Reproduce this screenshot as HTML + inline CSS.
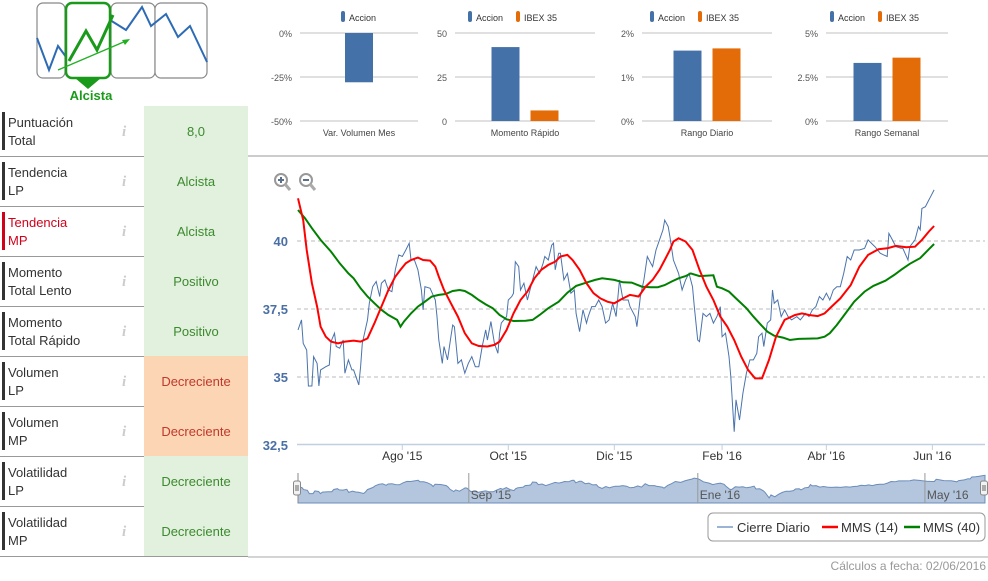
<!DOCTYPE html>
<html><head><meta charset="utf-8">
<style>
html,body{margin:0;padding:0;background:#fff;width:988px;height:581px;overflow:hidden;font-family:"Liberation Sans",sans-serif;}
svg{position:absolute;left:0;top:0;}
</style></head>
<body>
<svg id="s" width="988" height="581" viewBox="0 0 988 581" xmlns="http://www.w3.org/2000/svg" font-family="Liberation Sans, sans-serif">
  <g>
    <rect x="37" y="3" width="28" height="75" rx="6" fill="#fff" stroke="#888" stroke-width="1.2"/>
    <rect x="111" y="3" width="44" height="75" rx="6" fill="#fff" stroke="#888" stroke-width="1.2"/>
    <rect x="155" y="3" width="52" height="75" rx="6" fill="#fff" stroke="#888" stroke-width="1.2"/>
    <polyline points="37,38 49,70 58,46 69,61" fill="none" stroke="#2e6bb5" stroke-width="2"/>
    <polyline points="110,20 126,30 142,7 151,26 166,14 178,37 190,26 207,62" fill="none" stroke="#2e6bb5" stroke-width="2"/>
    <rect x="66" y="3" width="44" height="75" rx="6" fill="#fff" stroke="#1a9a1a" stroke-width="2.5"/>
    <polyline points="69,61 86,31 97,50 113,15" fill="none" stroke="#1a9a1a" stroke-width="3"/>
    <line x1="58" y1="70" x2="126" y2="41" stroke="#22b022" stroke-width="1.3"/>
    <polygon points="130,39 122,40 125,45" fill="#22b022"/>
    <polygon points="75,78 101,78 88,89" fill="#1a9a1a"/>
    <text x="91" y="100" text-anchor="middle" font-size="13" font-weight="bold" fill="#1a9a1a">Alcista</text>
  </g>
  <g id="rows"></g>
  <line x1="248" y1="156" x2="988" y2="156" stroke="#999" stroke-width="1"/>
  <g id="minis"></g>
  <g id="main"></g>
  <g>
    <circle cx="281" cy="180" r="6" fill="#fff" stroke="#999" stroke-width="2"/><line x1="285" y1="184" x2="290" y2="190" stroke="#aaa" stroke-width="3"/>
    <line x1="278" y1="180" x2="284" y2="180" stroke="#5b6f8c" stroke-width="2"/><line x1="281" y1="177" x2="281" y2="183" stroke="#5b6f8c" stroke-width="2"/>
  </g>
  <g>
    <circle cx="306" cy="180" r="6" fill="#fff" stroke="#999" stroke-width="2"/><line x1="310" y1="184" x2="315" y2="190" stroke="#aaa" stroke-width="3"/>
    <line x1="303" y1="180" x2="309" y2="180" stroke="#5b6f8c" stroke-width="2"/>
  </g>
  <g>
    <rect x="708" y="513" width="277" height="28" rx="5" fill="#fff" stroke="#999"/>
    <line x1="717" y1="527" x2="733" y2="527" stroke="#9bb3d4" stroke-width="2"/>
    <text x="737" y="532" font-size="13" fill="#333">Cierre Diario</text>
    <line x1="822" y1="527" x2="838" y2="527" stroke="#ff0000" stroke-width="2.5"/>
    <text x="841" y="532" font-size="13" fill="#333">MMS (14)</text>
    <line x1="904" y1="527" x2="920" y2="527" stroke="#008000" stroke-width="2.5"/>
    <text x="923" y="532" font-size="13" fill="#333">MMS (40)</text>
  </g>
  <line x1="248" y1="557" x2="988" y2="557" stroke="#aaa"/>
  <text x="986" y="570" text-anchor="end" font-size="12" fill="#999">Cálculos a fecha: 02/06/2016</text>
</svg>
<script>
const NS="http://www.w3.org/2000/svg";
function mk(p,t,a){const e=document.createElementNS(NS,t);for(const k in a)e.setAttribute(k,a[k]);p.appendChild(e);return e;}

// ---- left indicator rows ----
const rowLabels1=["Puntuación","Tendencia","Tendencia","Momento","Momento","Volumen","Volumen","Volatilidad","Volatilidad"];
const rowLabels2=["Total","LP","MP","Total Lento","Total Rápido","LP","MP","LP","MP"];
const rowValues=["8,0","Alcista","Alcista","Positivo","Positivo","Decreciente","Decreciente","Decreciente","Decreciente"];
const rowNegative=[false,false,false,false,false,true,true,false,false];
const rowHighlight=[false,false,true,false,false,false,false,false,false];
const R=document.getElementById('rows');
rowLabels1.forEach((l,i)=>{
  const y=106+i*50;
  const g=mk(R,'g',{});
  
  
  const c=rowHighlight[i]?'#d0021b':'#333';
  mk(g,'rect',{x:2,y:y+6,width:3,height:38,fill:rowHighlight[i]?'#d0021b':'#333'});
  const t1=mk(g,'text',{x:8,y:y+21,'font-size':13,fill:c});t1.textContent=l;
  const t2=mk(g,'text',{x:8,y:y+39,'font-size':13,fill:c});t2.textContent=rowLabels2[i];
  const ic=mk(g,'text',{x:122,y:y+30,'font-size':15,'font-style':'italic','font-weight':'bold',fill:'#ccc','font-family':'Liberation Serif, serif'});ic.textContent='i';
  
  
  mk(g,'rect',{x:144,y:y,width:104,height:50,fill:rowNegative[i]?'#fcd5b5':'#e2f0de'});
  const v=mk(g,'text',{x:196,y:y+30,'text-anchor':'middle','font-size':13,fill:rowNegative[i]?'#c0392b':'#3c8a2e'});v.textContent=rowValues[i];
  
  
  mk(g,'line',{x1:0,y1:y+50.5,x2:248,y2:y+50.5,stroke:'#999'});
});

// ---- mini bar charts ----
const miniTitles=["Var. Volumen Mes","Momento Rápido","Rango Diario","Rango Semanal"];
const miniTicks=[["0%","-25%","-50%"],["50","25","0"],["2%","1%","0%"],["5%","2.5%","0%"]];
const miniMax=[0,50,2,5];
const miniMin=[-50,0,0,0];
const miniAccion=[-28,42,1.6,3.3];
const miniIbex=[null,6,1.65,3.6];
const miniPlotX=[[300,418],[455,595],[642,772],[826,948]];
const M=document.getElementById('minis');
miniTitles.forEach((t,i)=>{
  const g=mk(M,'g',{});
  
  
  const [x0,x1]=miniPlotX[i];
  const y=v=>33+(miniMax[i]-v)/(miniMax[i]-miniMin[i])*88;
  miniTicks[i].forEach((tk,k)=>{
    const yy=33+k*44;
    mk(g,'line',{x1:x0,y1:yy,x2:x1,y2:yy,stroke:'#c0c0c0'});
    const tt=mk(g,'text',{x:x0-8,y:yy+4,'text-anchor':'end','font-size':9,fill:'#555'});tt.textContent=tk;
  });
  const tl=mk(g,'text',{x:(x0+x1)/2,y:136,'text-anchor':'middle','font-size':9,fill:'#444'});tl.textContent=t;
  const cx=(x0+x1)/2;
  const two=miniIbex[i]!==null;
  const bw=28;
  const bx1=two?cx-bw-5.5:cx-bw/2;
  const a=mk(g,'rect',{x:bx1,y:Math.min(y(0),y(miniAccion[i])),width:bw,height:Math.abs(y(miniAccion[i])-y(0)),fill:'#4472a8'});
  
  
  if(two){
    mk(g,'rect',{x:cx-57,y:11,width:4,height:11,rx:2,fill:'#4472a8'});
    const l1=mk(g,'text',{x:cx-49,y:21,'font-size':9,fill:'#333'});l1.textContent='Accion';
    mk(g,'rect',{x:cx-9,y:11,width:4,height:11,rx:2,fill:'#e36c09'});
    const l2=mk(g,'text',{x:cx-1,y:21,'font-size':9,fill:'#333'});l2.textContent='IBEX 35';
    const b=mk(g,'rect',{x:cx+5.5,y:y(miniIbex[i]),width:bw,height:y(0)-y(miniIbex[i]),fill:'#e36c09'});
    
    
  } else {
    mk(g,'rect',{x:cx-18,y:11,width:4,height:11,rx:2,fill:'#4472a8'});
    const l1=mk(g,'text',{x:cx-10,y:21,'font-size':9,fill:'#333'});l1.textContent='Accion';
  }
});

// ---- main price chart ----
const closeDays=[0,2,3,5,6,8,9,11,12,13,16,18,19,21,22,24,26,27,29,31,32,35,36,37,40,41,43,45,47,48,50,52,54,56,58,60,62,64,65,67,69,71,72,73,76,79,80,81,83,84,86,88,89,90,92,94,96,98,100,102,104,106,108,109,111,113,115,116,117,120,121,123,124,125,127,128,130,132,135,137,139,141,142,144,146,147,148,150,151,153,155,157,159,160,162,164,166,167,169,171,173,175,177,179,181,183,185,187,190,191,194,195,197,199,201,203,204,206,208,210,211,213,214,216,219,221,223,225,227,228,230,231,233,235,237,239,241,243,244,246,248,249,251,252,254,256,258,260,262,264,265,267,268,270,272,273,274,276,278,280,282,284,287,289,292,294,296,298,300,302,304,306,308,310,312,314,316,318,320,323,326,328,331,332,335,337,339,340,342,344,347,348,351,352,355,357,358,359,361,363,364,366];
const closeVals=[36.73,37.10,36.24,35.99,34.67,34.67,35.75,35.50,34.67,35.26,35.38,35.44,36.30,36.61,36.12,36.06,36.36,35.14,35.63,35.26,35.26,34.71,35.38,36.24,37.10,37.71,38.32,38.51,37.96,38.45,38.57,38.20,38.14,38.94,39.49,39.43,39.67,39.92,39.30,39.30,38.94,38.20,37.47,38.32,38.26,37.83,37.22,36.36,35.50,36.12,35.63,36.48,36.91,36.85,35.50,35.63,35.14,35.50,35.75,35.38,35.38,36.12,36.73,36.36,37.04,36.24,35.87,36.61,36.98,37.22,37.83,37.96,38.08,39.24,39.06,38.20,38.45,37.83,38.57,39.06,38.81,39.18,39.43,39.30,39.85,39.92,38.94,39.55,39.55,38.57,38.81,38.08,38.20,37.34,36.67,37.47,36.98,37.22,37.59,37.59,37.83,37.59,36.98,37.10,37.71,37.22,38.57,37.83,37.83,37.59,37.22,36.85,37.96,38.57,39.43,39.18,39.06,39.67,40.04,40.41,40.77,40.53,40.16,39.30,38.81,38.20,38.57,38.81,38.32,37.59,36.36,36.30,37.34,37.22,37.34,36.98,37.22,37.59,36.48,36.61,35.75,35.01,32.99,34.16,33.42,34.40,35.14,35.63,35.63,35.87,36.48,36.61,36.12,36.98,37.10,38.20,37.71,37.83,37.22,37.47,37.22,37.10,37.22,37.10,37.34,37.22,37.47,37.59,37.96,37.83,38.08,37.83,38.20,38.32,38.32,38.81,39.43,39.30,39.67,39.67,39.73,40.04,39.85,39.79,39.55,39.49,39.43,40.28,40.04,39.79,39.73,39.73,39.30,39.79,40.04,40.53,40.41,41.20,41.26,41.51,41.63,41.88];
const mms14Days=[0,3,5,8,11,13,16,19,23,27,32,36,40,44,48,52,56,59,62,65,69,72,76,79,81,84,88,92,96,100,104,109,113,116,120,124,128,132,136,140,144,148,151,155,158,162,166,170,174,178,182,186,191,196,200,204,208,211,214,216,219,223,227,231,235,239,243,247,251,255,259,263,267,271,275,280,286,290,294,299,303,307,312,318,323,328,334,339,344,350,355,359,363,366];
const mms14Vals=[41.57,40.77,39.67,38.45,37.59,36.85,36.48,36.30,36.24,36.30,36.34,36.30,36.42,36.98,37.59,38.20,38.69,38.94,39.18,39.30,39.39,39.30,39.28,39.06,38.69,38.20,37.71,37.22,36.61,36.24,36.14,36.12,36.18,36.30,36.73,37.34,37.83,38.14,38.63,38.94,39.12,39.24,39.43,39.49,39.30,38.94,38.45,38.08,37.89,37.77,37.71,37.86,38.02,37.96,38.32,38.57,38.94,39.30,39.67,39.98,40.10,39.98,39.67,38.94,38.32,37.83,37.22,36.85,36.36,35.75,35.26,34.95,34.95,35.63,36.48,37.10,37.28,37.34,37.28,37.24,37.34,37.59,37.89,38.38,39.06,39.49,39.70,39.73,39.82,39.77,39.79,40.04,40.35,40.55];
const mms40Days=[0,4,8,13,19,24,29,32,36,40,44,48,52,57,59,61,65,69,73,77,81,85,89,93,96,100,104,108,112,116,120,124,131,135,139,144,150,155,160,166,171,175,182,187,192,198,203,207,211,215,219,223,226,231,239,241,244,248,252,258,262,266,270,274,279,283,288,294,299,303,306,310,315,320,326,331,338,343,347,352,358,363,366];
const mms40Vals=[41.14,40.84,40.47,40.04,39.61,39.18,38.81,38.63,38.26,37.96,37.71,37.47,37.28,37.10,36.85,37.04,37.34,37.59,37.77,37.96,38.02,38.05,38.16,38.20,38.16,38.02,37.83,37.67,37.53,37.28,37.12,37.06,37.07,37.10,37.28,37.53,37.77,38.10,38.35,38.47,38.57,38.63,38.57,38.48,38.47,38.32,38.30,38.30,38.38,38.51,38.63,38.71,38.81,38.71,38.74,38.32,38.26,38.14,37.89,37.53,37.22,36.94,36.67,36.52,36.45,36.36,36.40,36.41,36.42,36.48,36.61,36.91,37.34,37.77,38.14,38.35,38.54,38.75,38.94,39.16,39.37,39.70,39.89];
const yTickVals=[32.5,35,37.5,40];
const yTickLabels=["32,5","35","37,5","40"];
const xTickDays=[60,121,182,244,304,365];
const xTickLabels=["Ago '15","Oct '15","Dic '15","Feb '16","Abr '16","Jun '16"];
const navTickDays=[91,213,334];
const navTickLabels=["Sep '15","Ene '16","May '16"];

const X=d=>298+d*1.738;
const Y=v=>241+(40-v)*27.2;
const NX=d=>298+d*1.877;
const NY=v=>503-(v-31)*2.55;
const G=document.getElementById('main');
yTickVals.forEach((v,i)=>{
  if(i>0){const gl=mk(G,'line',{x1:297,y1:Y(v),x2:985,y2:Y(v),stroke:'#bbb','stroke-dasharray':'4,3'});
  
  }
  const t=mk(G,'text',{x:288,y:Y(v)+5,'text-anchor':'end','font-size':13,'font-weight':'bold',fill:'#4a6fa5'});t.textContent=yTickLabels[i];
  
  
});
mk(G,'line',{x1:297,y1:444.5,x2:985,y2:444.5,stroke:'#c0d0e0','stroke-width':1.5});
xTickDays.forEach((d,i)=>{
  mk(G,'line',{x1:X(d),y1:444,x2:X(d),y2:450,stroke:'#c0d0e0'});
  const t=mk(G,'text',{x:X(d),y:460,'text-anchor':'middle','font-size':12,fill:'#333'});t.textContent=xTickLabels[i];
  
  
});
function path(days,vals,fx,fy){return days.map((d,i)=>(i?'L':'M')+fx(d).toFixed(1)+','+fy(vals[i]).toFixed(1)).join('');}
const pc=mk(G,'path',{d:path(closeDays,closeVals,X,Y),fill:'none',stroke:'#4a73ad','stroke-width':1});


const pg=mk(G,'path',{d:path(mms40Days,mms40Vals,X,Y),fill:'none',stroke:'#008000','stroke-width':2});


const pr=mk(G,'path',{d:path(mms14Days,mms14Vals,X,Y),fill:'none',stroke:'#ff0000','stroke-width':2});



// navigator
const nav=mk(G,'g',{});


mk(nav,'path',{d:path(closeDays,closeVals,NX,NY)+'L'+NX(366)+',503L'+NX(0)+',503Z',fill:'#b3c6de',stroke:'#6b8cba','stroke-width':1});
navTickDays.forEach((d,i)=>{
  mk(nav,'line',{x1:NX(d),y1:473,x2:NX(d),y2:503,stroke:'#999'});
  const t=mk(nav,'text',{x:NX(d)+2,y:499,'font-size':12,fill:'#555'});t.textContent=navTickLabels[i];
  
  
});
mk(nav,'line',{x1:298,y1:473,x2:298,y2:503,stroke:'#888'});
[[297],[984]].forEach(([hx])=>{
  const h=mk(nav,'rect',{x:hx-3.5,y:481,width:7,height:14,rx:2,fill:'#f2f2f2',stroke:'#888'});
  
  
  mk(nav,'line',{x1:hx-1,y1:485,x2:hx-1,y2:491,stroke:'#666'});
  mk(nav,'line',{x1:hx+1,y1:485,x2:hx+1,y2:491,stroke:'#666'});
});
</script>
</body></html>
